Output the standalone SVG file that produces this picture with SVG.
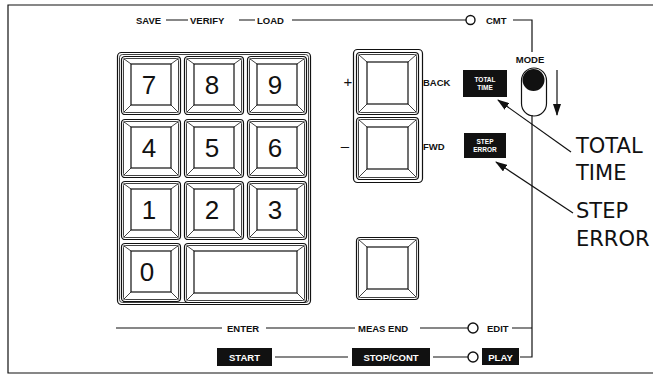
<svg xmlns="http://www.w3.org/2000/svg" xmlns:xlink="http://www.w3.org/1999/xlink" width="653" height="377" viewBox="0 0 653 377">
<style>
.ln{stroke:#111;stroke-width:1.2;fill:none}
.th{stroke:#111;stroke-width:0.8;fill:none}
.lbl{font-family:"Liberation Sans",Arial,sans-serif;font-weight:bold;font-size:9.5px;fill:#111}
.wl{font-family:"Liberation Sans",Arial,sans-serif;font-weight:bold;fill:#fff}
.dig{font-family:"Liberation Sans",Arial,sans-serif;font-size:26px;fill:#111;text-anchor:middle}
.big{font-family:"DejaVu Sans","Liberation Sans",sans-serif;font-size:21px;fill:#111}
.box{fill:#111}
</style>
<defs>
<marker id="ah" viewBox="0 0 12 8" refX="11" refY="4" markerWidth="12" markerHeight="8" markerUnits="userSpaceOnUse" orient="auto">
<path d="M0,0 L12,4 L0,8 z" fill="#111"/>
</marker>
<g id="k">
<rect x="0.5" y="0.5" width="59" height="58" rx="3.5" class="ln"/>
<rect x="2.5" y="2.5" width="55" height="54" rx="2" class="th"/>
<rect x="10" y="8" width="40" height="41" class="ln"/>
<path d="M2.5,2.5 L10,8 M57.5,2.5 L50,8 M2.5,56.5 L10,49 M57.5,56.5 L50,49" class="th"/>
</g>
<g id="kw">
<rect x="0.5" y="0.5" width="122" height="59" rx="3.5" class="ln"/>
<rect x="2.5" y="2.5" width="118" height="55" rx="2" class="th"/>
<rect x="10" y="8" width="103" height="42" class="ln"/>
<path d="M2.5,2.5 L10,8 M120.5,2.5 L113,8 M2.5,57.5 L10,50 M120.5,57.5 L113,50" class="th"/>
</g>
<g id="ks">
<rect x="0.5" y="0.5" width="62" height="62" rx="3.5" class="ln"/>
<rect x="2.5" y="2.5" width="58" height="58" rx="2" class="th"/>
<rect x="11" y="10" width="41" height="42" class="ln"/>
<path d="M2.5,2.5 L11,10 M60.5,2.5 L52,10 M2.5,60.5 L11,52 M60.5,60.5 L52,52" class="th"/>
</g>
</defs>
<rect width="653" height="377" fill="#fff"/>
<g id="frame">
<path d="M653,5 L8,5 L8,373 L653,373" class="ln"/>
</g>
<g id="connectors">
<path d="M166,20 H188 M239,20 H255 M292,20 H465 M475,20 H465" class="ln"/>
<path d="M513,20 H532 V52" class="ln"/>
<path d="M116,328 H222 M266,328 H355 M420,328 H468 M512,328 H532" class="ln"/>
<path d="M275,357 H348 M433,357 H468 M520,357 H532 V115" class="ln"/>
<line x1="557" y1="70" x2="557" y2="115" class="ln" marker-end="url(#ah)"/>
<line x1="571" y1="152" x2="498" y2="100" class="ln" marker-end="url(#ah)"/>
<line x1="573" y1="213" x2="496" y2="162" class="ln" marker-end="url(#ah)"/>
</g>
<g id="top-labels">
<text x="136" y="24" class="lbl">SAVE</text>
<text x="190" y="24" class="lbl">VERIFY</text>
<text x="257" y="24" class="lbl">LOAD</text>
</g>
<g id="cmt">
<circle cx="470.5" cy="20" r="4.5" fill="#fff" stroke="#111" stroke-width="1.4"/>
<text x="486" y="24" class="lbl">CMT</text>
</g>
<g id="mode">
<text x="530" y="63" class="lbl" font-size="8.5" text-anchor="middle">MODE</text>
<rect x="521.5" y="68" width="25" height="48" rx="12.5" class="ln"/>
<circle cx="533.5" cy="80" r="11" fill="#111"/>
</g>
<g id="keypad">
<rect x="117.5" y="52.5" width="193" height="252" rx="4" class="ln"/>
<rect x="119.5" y="54.5" width="189" height="248" rx="3" class="th"/>
</g>
<g id="key7"><use xlink:href="#k" x="121" y="56"/><text x="149" y="93.5" class="dig">7</text></g>
<g id="key8"><use xlink:href="#k" x="184" y="56"/><text x="212" y="93.5" class="dig">8</text></g>
<g id="key9"><use xlink:href="#k" x="247" y="56"/><text x="275" y="93.5" class="dig">9</text></g>
<g id="key4"><use xlink:href="#k" x="121" y="119"/><text x="149" y="156.5" class="dig">4</text></g>
<g id="key5"><use xlink:href="#k" x="184" y="119"/><text x="212" y="156.5" class="dig">5</text></g>
<g id="key6"><use xlink:href="#k" x="247" y="119"/><text x="275" y="156.5" class="dig">6</text></g>
<g id="key1"><use xlink:href="#k" x="121" y="181"/><text x="149" y="218.5" class="dig">1</text></g>
<g id="key2"><use xlink:href="#k" x="184" y="181"/><text x="212" y="218.5" class="dig">2</text></g>
<g id="key3"><use xlink:href="#k" x="247" y="181"/><text x="275" y="218.5" class="dig">3</text></g>
<g id="key0"><use xlink:href="#k" x="121" y="243"/><text x="147" y="280.5" class="dig">0</text></g>
<g id="keywide"><use xlink:href="#kw" x="184" y="243"/></g>
<g id="updown">
<rect x="353.5" y="49.5" width="69" height="133" rx="4" class="ln"/>
<use xlink:href="#ks" x="356" y="52"/>
<use xlink:href="#ks" x="356" y="117"/>
<text x="348" y="87" font-family="Liberation Sans,Arial,sans-serif" font-size="15" fill="#111" text-anchor="middle">+</text>
<text x="345" y="151" font-family="Liberation Sans,Arial,sans-serif" font-size="15" fill="#111" text-anchor="middle">–</text>
<text x="423" y="86" class="lbl" font-size="8.5">BACK</text>
<text x="423" y="150" class="lbl" font-size="8">FWD</text>
</g>
<g id="keybottom"><use xlink:href="#ks" x="356" y="237"/></g>
<g id="totaltime-box">
<rect x="463" y="70" width="44" height="27" class="box"/>
<text x="485" y="82" class="wl" font-size="6.5" text-anchor="middle">TOTAL</text>
<text x="485" y="90" class="wl" font-size="6.5" text-anchor="middle">TIME</text>
</g>
<g id="steperror-box">
<rect x="464" y="133" width="42" height="25" class="box"/>
<text x="485" y="144" class="wl" font-size="6.5" text-anchor="middle">STEP</text>
<text x="485" y="152" class="wl" font-size="6.5" text-anchor="middle">ERROR</text>
</g>
<g id="callout-total">
<text x="576" y="153" class="big">TOTAL</text>
<text x="576" y="180" class="big">TIME</text>
</g>
<g id="callout-step">
<text x="576" y="218" class="big">STEP</text>
<text x="576" y="246" class="big">ERROR</text>
</g>
<g id="enter-row">
<text x="227" y="332" class="lbl">ENTER</text>
<text x="358" y="332" class="lbl">MEAS END</text>
<circle cx="473" cy="328" r="5" fill="#fff" stroke="#111" stroke-width="1.4"/>
<text x="487" y="332" class="lbl">EDIT</text>
</g>
<g id="start"><rect x="217" y="348" width="55" height="18" class="box"/><text x="244.5" y="361" class="wl" font-size="9.5" text-anchor="middle">START</text></g>
<g id="stopcont"><rect x="352" y="348" width="78" height="18" class="box"/><text x="391" y="361" class="wl" font-size="9.5" text-anchor="middle">STOP/CONT</text></g>
<g id="play">
<circle cx="473" cy="357" r="5" fill="#fff" stroke="#111" stroke-width="1.4"/>
<rect x="482" y="348" width="37" height="17" class="box"/><text x="500.5" y="360.5" class="wl" font-size="9.5" text-anchor="middle">PLAY</text>
</g>
</svg>
